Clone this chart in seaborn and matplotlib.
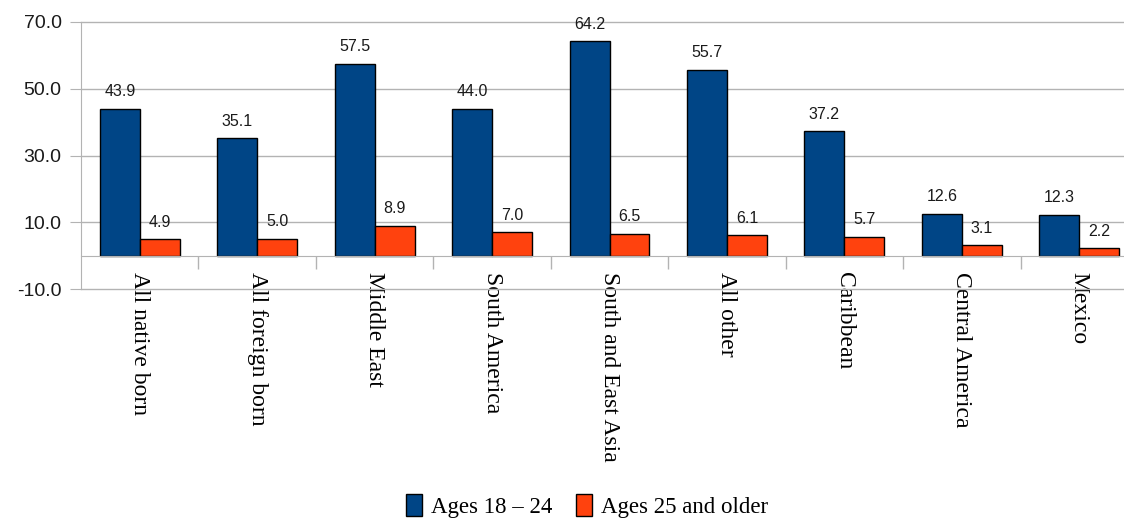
import matplotlib
matplotlib.use("Agg")
import matplotlib.pyplot as plt
import seaborn as sns
import pandas as pd
import numpy as np
from matplotlib.patches import Patch

categories = ["All native born", "All foreign born", "Middle East", "South America",
              "South and East Asia", "All other", "Caribbean", "Central America", "Mexico"]
series_names = ["Ages 18 \u2013 24", "Ages 25 and older"]
ages_18_24 = [43.9, 35.1, 57.5, 44.0, 64.2, 55.7, 37.2, 12.6, 12.3]
ages_25_older = [4.9, 5.0, 8.9, 7.0, 6.5, 6.1, 5.7, 3.1, 2.2]
y_ticks = [-10, 10, 30, 50, 70]

colors = ["#004586", "#ff420e"]

df = pd.DataFrame({
    "category": categories * 2,
    "series": [series_names[0]] * len(categories) + [series_names[1]] * len(categories),
    "value": ages_18_24 + ages_25_older,
})

fig = plt.figure(figsize=(11.24, 5.21), dpi=100)
ax = fig.add_axes([81 / 1124, 1 - 289 / 521, (1138 - 81) / 1124, (289 - 22) / 521])

sns.barplot(data=df, x="category", y="value", hue="series", order=categories,
            hue_order=series_names, palette=colors, saturation=1, width=0.68, gap=0,
            edgecolor="black", linewidth=1.0, ax=ax, legend=False, errorbar=None)

ax.set_xlim(-0.5, len(categories) - 0.5)
ax.set_ylim(-10, 70)
ax.set_yticks(y_ticks)
ax.set_yticklabels([f"{v:.1f}" for v in y_ticks], fontsize=14, family="Liberation Sans")
ax.yaxis.grid(True, color="#b3b3b3", linewidth=1.0)
for gl in ax.get_ygridlines():
    gl.set_clip_on(False)
ax.set_axisbelow(True)
ax.tick_params(axis="y", length=8, color="#b3b3b3", pad=6, labelcolor="#1a1a1a")

for s in ["top", "right"]:
    ax.spines[s].set_visible(False)
ax.spines["left"].set_color("#b3b3b3")
ax.spines["bottom"].set_color("#b3b3b3")
ax.spines["bottom"].set_position(("data", 0))

ax.set_xticks(range(len(categories)))
ax.set_xticklabels(categories, rotation=-90, fontsize=17, family="Liberation Serif",
                   va="top", ha="center")
ax.set_xticks(np.arange(0.5, len(categories) - 0.5, 1.0), minor=True)
ax.tick_params(axis="x", which="major", length=0, pad=12)
ax.tick_params(axis="x", which="minor", length=9, color="#b3b3b3", width=1)
ax.set_xlabel("")
ax.set_ylabel("")

for container in ax.containers:
    ax.bar_label(container, labels=[f"{v:.1f}" for v in container.datavalues],
                 padding=7, fontsize=11.5, family="Liberation Sans", color="#1a1a1a")

handles = [Patch(facecolor=c, edgecolor="black", linewidth=1.0) for c in colors]
fig.legend(handles, series_names, loc="center", bbox_to_anchor=(587 / 1124, 15 / 521),
           ncol=2, frameon=False, prop={"family": "Liberation Serif", "size": 16.5},
           handlelength=0.7, handleheight=1.1, handletextpad=0.4, columnspacing=1.0)

fig.savefig("out.png", dpi=100)
